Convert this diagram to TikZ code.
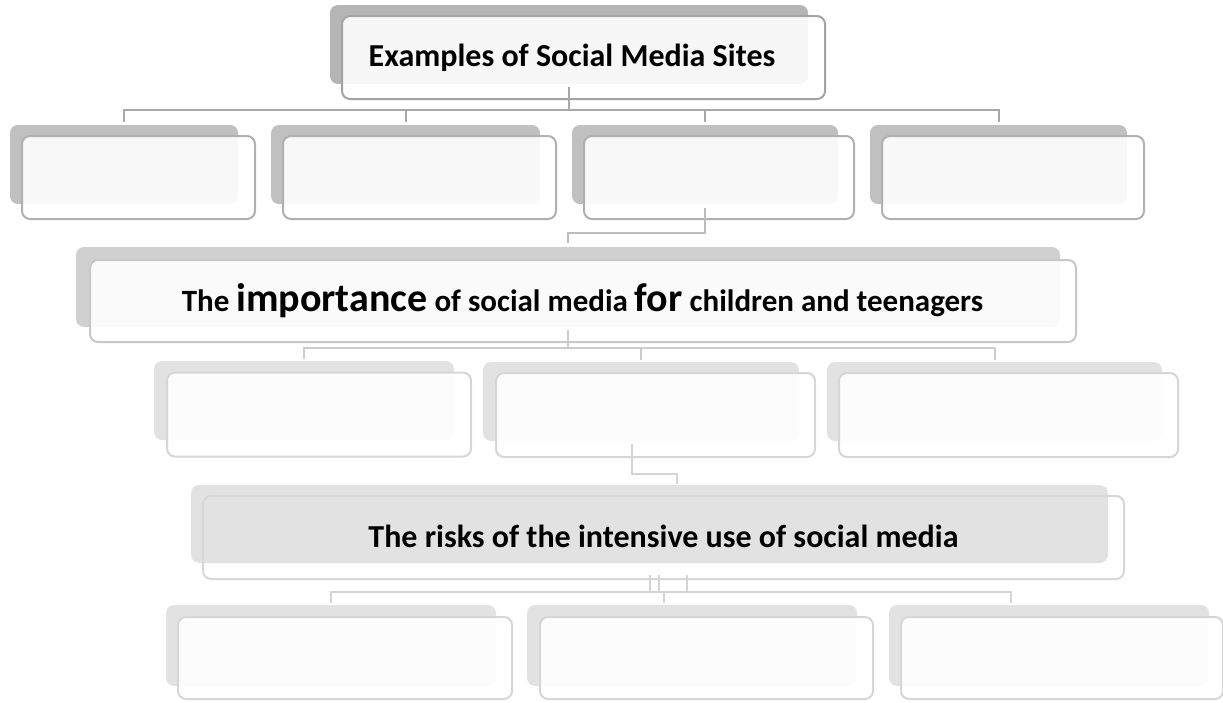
\documentclass[tikz,border=0pt]{standalone}
\usepackage{fontspec}
\setmainfont{Carlito}
\definecolor{back0}{HTML}{B5B5B5}
\definecolor{back1}{HTML}{C0C0C0}
\definecolor{back2}{HTML}{D0D0D0}
\definecolor{back3}{HTML}{E2E2E2}
\definecolor{edge0}{HTML}{A3A3A3}
\definecolor{edge1}{HTML}{B0B0B0}
\definecolor{edge2}{HTML}{C8C8C8}
\definecolor{edge3}{HTML}{D6D6D6}
\definecolor{line0}{HTML}{A8A8A8}
\definecolor{line1}{HTML}{BDBDBD}
\definecolor{line2}{HTML}{CCCCCC}
\definecolor{line3}{HTML}{D4D4D4}
\begin{document}
\begin{tikzpicture}[
    x=1pt, y=-1pt,
    back/.style={rectangle, rounded corners=8pt, fill=#1, inner sep=0pt},
    box/.style={rectangle, rounded corners=8pt, draw=#1, line width=2pt, fill=white, fill opacity=0.9, inner sep=0pt},
    link/.style={draw=#1, line width=2pt},
    title/.style={anchor=base, inner sep=0pt, text=black}
]
\useasboundingbox (0,0) rectangle (1223,702);

% top level
\node[back=back0, minimum width=478pt, minimum height=79pt] (sT) at (569,44.5) {};
\node[box=edge0, minimum width=483pt, minimum height=83pt] (fT) at (583.5,57.5) {};
\node[title, font=\bfseries\fontsize{32}{38}\selectfont] (tT) at (572,66) {Examples of Social Media Sites};

% first row
\node[back=back1, minimum width=228pt, minimum height=79pt] (sA) at (124,164.5) {};
\node[box=edge1, minimum width=233pt, minimum height=83pt] (fA) at (138.5,177.5) {};
\node[back=back1, minimum width=269pt, minimum height=79pt] (sB) at (405.5,164.5) {};
\node[box=edge1, minimum width=273pt, minimum height=83pt] (fB) at (419.5,177.5) {};
\node[back=back1, minimum width=266pt, minimum height=79pt] (sC) at (705,164.5) {};
\node[box=edge1, minimum width=270pt, minimum height=83pt] (fC) at (719,177.5) {};
\node[back=back1, minimum width=257pt, minimum height=79pt] (sD) at (998.5,164.5) {};
\node[box=edge1, minimum width=262pt, minimum height=83pt] (fD) at (1013,177.5) {};

% importance
\node[back=back2, minimum width=984pt, minimum height=80pt] (sM) at (568,287) {};
\node[box=edge2, minimum width=986pt, minimum height=82pt] (fM) at (583,301) {};
\node[title] (tM) at (582.5,311) {\bfseries\fontsize{31}{36}\selectfont The
    {\fontsize{40}{46}\selectfont importance} of social media
    {\fontsize{40}{46}\selectfont for} children and teenagers};

% second row
\node[back=back3, minimum width=300pt, minimum height=79pt] (sE) at (304,400.5) {};
\node[box=edge3, minimum width=304pt, minimum height=84pt] (fE) at (319,414.5) {};
\node[back=back3, minimum width=316pt, minimum height=79pt] (sF) at (641,401.5) {};
\node[box=edge3, minimum width=319pt, minimum height=84pt] (fF) at (655.5,415) {};
\node[back=back3, minimum width=335pt, minimum height=79pt] (sG) at (994.5,401.5) {};
\node[box=edge3, minimum width=339pt, minimum height=84pt] (fG) at (1008.5,415) {};

% risks
\node[back=back3, minimum width=917pt, minimum height=78pt] (sR) at (649.5,524) {};
\node[rectangle, rounded corners=8pt, draw=edge3, line width=2pt, inner sep=0pt,
    minimum width=921pt, minimum height=83pt] (fR) at (663.5,537.5) {};
\node[title, font=\bfseries\fontsize{32}{38}\selectfont] (tR) at (663.5,547) {The risks of the intensive use of social media};

% third row
\node[back=back3, minimum width=330pt, minimum height=81pt] (sH) at (331,645.5) {};
\node[box=edge3, minimum width=334pt, minimum height=82pt] (fH) at (345,658) {};
\node[back=back3, minimum width=330pt, minimum height=81pt] (sI) at (692,645.5) {};
\node[box=edge3, minimum width=333pt, minimum height=82pt] (fI) at (706.5,658) {};
\node[back=back3, minimum width=320pt, minimum height=81pt] (sJ) at (1049,645.5) {};
\node[box=edge3, minimum width=322pt, minimum height=82pt] (fJ) at (1062,658) {};

% connectors
\coordinate (j0) at (569,110);
\draw[link=line0, shorten <=3pt] (sT.south) -- (j0);
\foreach \n in {A,B,C,D}
    \draw[link=line0, shorten >=3pt] (j0) -| (s\n.north);

\coordinate (j1) at (568,233);
\draw[link=line1, shorten <=4pt, shorten >=4pt] (sC.south) |- (j1) -- (sM.north);

\coordinate (j2) at (568,348);
\draw[link=line2, shorten <=3pt] (sM.south) -- (j2);
\foreach \n in {E,F,G}
    \draw[link=line2, shorten >=2pt] (j2) -| (s\n.north);

\coordinate (j3) at (632,444);
\coordinate (j4) at (677,474);
\draw[link=line3, shorten >=1pt] (j3) |- (j4) -- (j4 |- sR.north);

\coordinate (j5) at (664,592);
\coordinate (j6) at (664,603);
\coordinate (j7) at (1011,603);
\foreach \dx in {0,9,37}
    \draw[link=line3, shorten <=12pt] ([xshift=\dx pt]sR.south) -- ([xshift=\dx pt]sR.south |- j5);
\draw[link=line3, shorten >=2pt] (j5) -| (sH.north);
\draw[link=line3] (j5) -- (j6);
\draw[link=line3] (j5) -| (j7);

\end{tikzpicture}
\end{document}
